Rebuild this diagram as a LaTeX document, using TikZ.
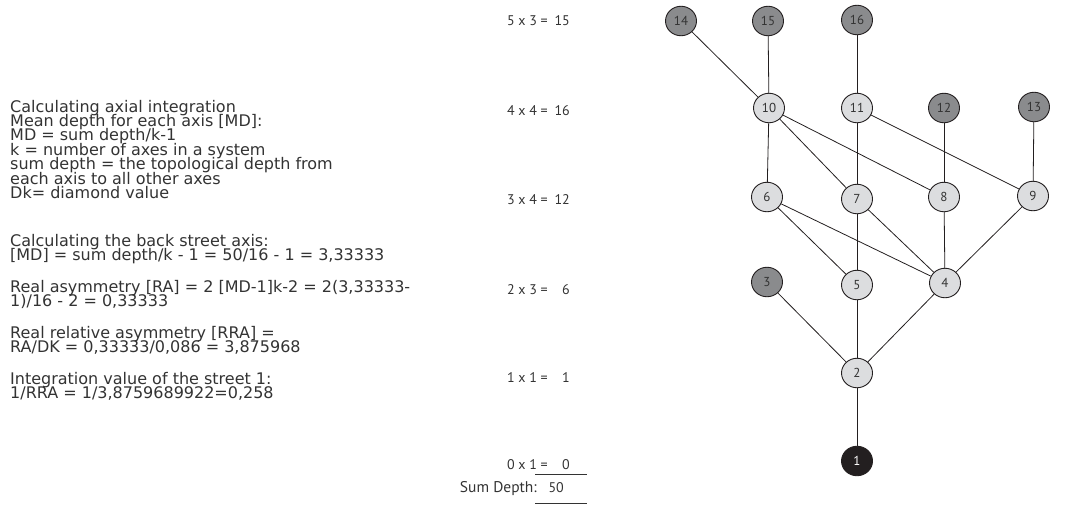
\documentclass[tikz,border=0pt]{standalone}
\usepackage{fontspec}
\usetikzlibrary{shapes.geometric}
\newfontfamily\notefont{DejaVu Sans}
\newfontfamily\figfont{PT Sans}
\definecolor{ink}{HTML}{231F20}
\definecolor{darknode}{HTML}{8A8B8D}
\definecolor{lightnode}{HTML}{DCDDDF}
\definecolor{labelgray}{HTML}{333333}
\begin{document}
\begin{tikzpicture}[x=1pt,y=-1pt,
  axis/.style={ellipse,draw=ink,line width=0.9pt,minimum width=31pt,minimum height=29.5pt,
               inner sep=0pt,font=\figfont\fontsize{13}{14}\selectfont,text=labelgray},
  outer/.style={axis,fill=darknode},
  inner/.style={axis,fill=lightnode},
  root/.style={axis,fill=ink,text=white},
  link/.style={draw=ink,line width=0.8pt},
  note/.style={anchor=base west,inner sep=0pt,text=labelgray,
               font=\notefont\fontsize{16}{16}\selectfont},
  calc/.style={anchor=base east,inner sep=0pt,text=labelgray,
               font=\figfont\fontsize{14}{16}\selectfont},
  rule/.style={draw=labelgray,line width=0.7pt}]
\useasboundingbox (0,0) rectangle (1065,506);

% justified graph of the street axes
\node[outer] (n14) at (681,21) {14};
\node[outer] (n15) at (768,21) {15};
\node[outer] (n16) at (857,20) {16};
\node[inner] (n10) at (769,108) {10};
\node[inner] (n11) at (857,108) {11};
\node[outer] (n12) at (944,108) {12};
\node[outer] (n13) at (1034,107) {13};
\node[inner] (n6) at (767,197) {6};
\node[inner] (n7) at (857,199) {7};
\node[inner] (n8) at (944,197) {8};
\node[inner] (n9) at (1033,196) {9};
\node[outer] (n3) at (767,282) {3};
\node[inner] (n5) at (857,285) {5};
\node[inner] (n4) at (945,283) {4};
\node[inner] (n2) at (857,373) {2};
\node[root] (n1) at (857,461) {1};

\draw[link] (n14) -- (n10);
\draw[link] (n15) -- (n10);
\draw[link] (n16) -- (n11);
\draw[link] (n10) -- (n6);
\draw[link] (n10) -- (n7);
\draw[link] (n10) -- (n8);
\draw[link] (n11) -- (n7);
\draw[link] (n11) -- (n9);
\draw[link] (n12) -- (n8);
\draw[link] (n13) -- (n9);
\draw[link] (n6) -- (n5);
\draw[link] (n6) -- (n4);
\draw[link] (n7) -- (n5);
\draw[link] (n7) -- (n4);
\draw[link] (n8) -- (n4);
\draw[link] (n9) -- (n4);
\draw[link] (n3) -- (n2);
\draw[link] (n5) -- (n2);
\draw[link] (n4) -- (n2);
\draw[link] (n2) -- (n1);

% depth count per level
\node[calc] (e5) at (548,25) {5 x 3 =};  \node[calc] (v5) at (570,25) {15};
\node[calc] (e4) at (548,115) {4 x 4 =}; \node[calc] (v4) at (570,115) {16};
\node[calc] (e3) at (548,204) {3 x 4 =}; \node[calc] (v3) at (570,204) {12};
\node[calc] (e2) at (548,294) {2 x 3 =}; \node[calc] (v2) at (570,294) {6};
\node[calc] (e1) at (548,382) {1 x 1 =}; \node[calc] (v1) at (570,382) {1};
\node[calc] (e0) at (548,469) {0 x 1 =}; \node[calc] (v0) at (570,469) {0};
\draw[rule] (535,474) -- (587,474);
\node[calc,font=\figfont\fontsize{15.5}{16}\selectfont] (sumlabel) at (537,492) {Sum Depth:};
\node[calc] (sumvalue) at (564,492) {50};
\draw[rule] (535,503) -- (587,503);

% explanation of the calculation
\node[note] (t1) at (10,112) {Calculating axial integration};
\node[note] (t2) at (10,126.4) {Mean depth for each axis [MD]:};
\node[note] (t3) at (10,140.8) {MD = sum depth/k-1};
\node[note] (t4) at (10,155.2) {k = number of axes in a system};
\node[note] (t5) at (10,169.6) {sum depth = the topological depth from};
\node[note] (t6) at (10,184) {each axis to all other axes};
\node[note] (t7) at (10,198.4) {Dk= diamond value};
\node[note] (t8) at (10,246) {Calculating the back street axis:};
\node[note] (t9) at (10,260) {[MD] = sum depth/k - 1 = 50/16 - 1 = 3,33333};
\node[note] (t10) at (10,292) {Real asymmetry [RA] = 2 [MD-1]k-2 = 2(3,33333-};
\node[note] (t11) at (10,306) {1)/16 - 2 = 0,33333};
\node[note] (t12) at (10,338) {Real relative asymmetry [RRA] =};
\node[note] (t13) at (10,352) {RA/DK = 0,33333/0,086 = 3,875968};
\node[note] (t14) at (10,384) {Integration value of the street 1:};
\node[note] (t15) at (10,398) {1/RRA = 1/3,8759689922=0,258};
\end{tikzpicture}
\end{document}
